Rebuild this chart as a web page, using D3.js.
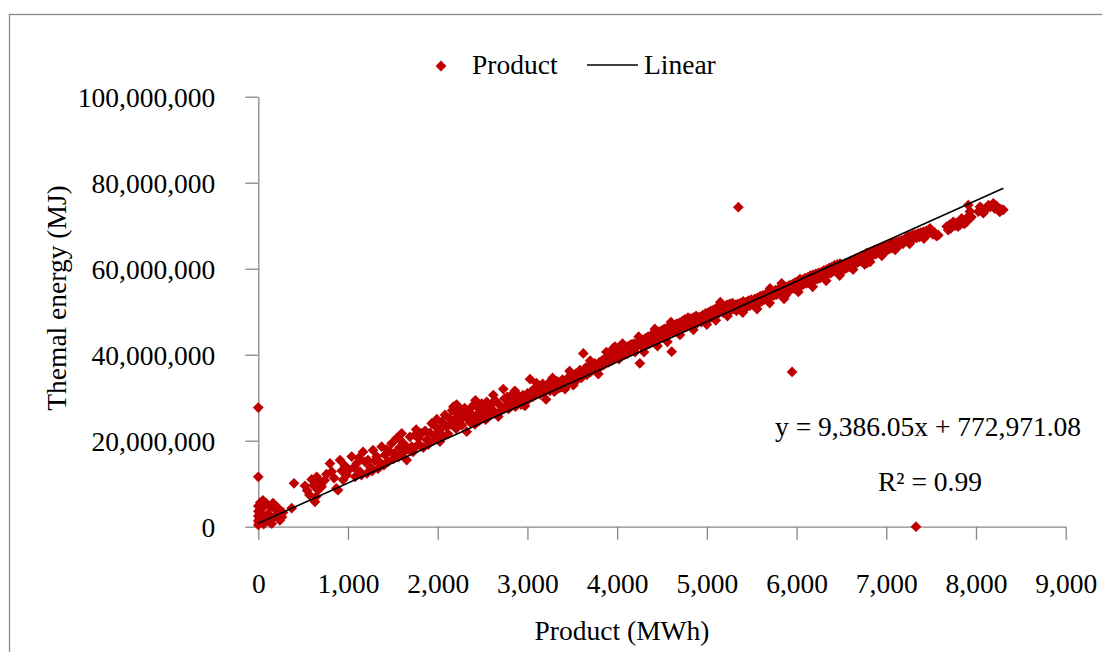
<!DOCTYPE html>
<html>
<head>
<meta charset="utf-8">
<script src="https://cdn.jsdelivr.net/npm/d3@7"></script>
<style>
  body { margin: 0; background: #fff; }
  svg { display: block; }
  text { font-family: "Liberation Serif", "Times New Roman", serif; fill: #000; }
</style>
</head>
<body>
<svg id="chart" width="1102" height="652"></svg>
<script>
// Axis ticks
const xTicks = [0, 1000, 2000, 3000, 4000, 5000, 6000, 7000, 8000, 9000];
const yTicks = [0, 20e6, 40e6, 60e6, 80e6, 100e6];

// Linear fit reported on the chart
const trendSlope = 9386.05;
const trendIntercept = 772971.08;
const rSquared = 0.99;

// Observations: [product in MWh, thermal energy in millions of MJ]
const observations = [
  [0,0.4],[0,1.4],[0,2.5],[0,3.6],[0,4.8],[0,11.6],[0,27.7],[8,0.9],[15,2.0],[22,5.6],[30,3.1],[40,4.2],
  [52,6.1],[60,0.6],[75,1.7],[90,5.4],[100,2.2],[110,3.0],[125,1.1],[140,4.6],[150,0.7],[164,5.5],[180,2.4],
  [200,3.8],[220,4.35],[240,1.5],[264,2.25],[275,3.3],
  [372,4.3],[398,10.1],
  [521,9.5],[545,8.4],[570,7.4],[595,11.0],[615,9.6],[632,5.8],[645,7.0],[651,11.6],[666,8.5],[690,10.5],[706,9.3],
  [740,10.8],[760,12.2],[799,14.7],[818,12.8],[845,11.3],[870,8.9],[888,8.5],[911,15.5],[930,13.0],[945,10.9],
  [965,14.2],[985,12.0],
  [1010,13.2],[1041,16.3],[1065,13.8],[1080,11.6],[1097,14.7],[1120,16.0],[1134,12.8],[1150,12.0],[1167,17.4],
  [1190,15.1],[1210,12.4],[1223,15.5],[1250,13.8],[1270,13.0],[1279,17.8],[1300,15.3],[1320,16.3],[1335,13.5],
  [1355,15.0],[1375,18.6],[1400,14.3],[1412,16.7],[1430,18.0],[1446,15.1],[1465,17.5],[1487,19.4],[1505,15.8],
  [1520,17.1],[1543,20.6],[1562,16.2],[1575,18.4],[1580,20.2],[1598,21.7],[1615,17.2],[1635,19.0],[1654,15.5],
  [1675,17.9],[1691,20.9],[1710,18.6],[1725,17.4],[1747,21.3],[1760,22.6],[1765,18.8],[1784,20.6],[1800,19.0],
  [1821,21.7],[1840,18.4],[1860,22.3],[1877,20.2],[1895,19.1],[1915,21.8],[1933,24.0],[1950,20.0],[1970,21.3],
  [1990,23.0],[1990,25.0],[2005,20.4],[2025,22.5],[2025,19.8],[2045,24.4],[2060,21.0],[2081,26.0],[2100,23.3],
  [2115,21.6],[2130,25.2],[2145,23.8],[2160,27.0],[2175,27.9],[2190,25.0],[2205,22.8],[2210,28.4],[2220,26.3],
  [2240,24.4],[2255,27.2],[2270,23.6],[2285,25.8],[2300,27.6],[2323,22.1],[2335,25.0],[2350,26.8],[2365,24.2],
  [2380,27.9],[2400,25.6],[2415,23.8],[2420,29.4],[2430,28.0],[2445,26.2],[2460,24.6],[2475,27.3],[2490,28.6],
  [2505,25.6],[2520,27.2],[2535,24.9],[2546,29.0],[2560,26.4],[2575,28.0],[2590,26.0],[2605,28.6],[2620,27.0],
  [2620,30.6],[2640,29.4],[2655,26.2],
  [2675,25.6],[2690,28.3],[2705,27.0],[2731,32.0],[2745,29.8],[2760,28.0],[2775,30.2],[2790,27.4],[2805,29.2],
  [2820,30.6],[2835,28.3],[2850,29.6],[2860,31.6],[2865,27.9],[2880,30.8],[2895,28.8],[2917,30.0],[2930,28.4],
  [2950,30.6],[2973,28.1],[2985,29.6],[3000,31.0],
  [3015,29.7],[3029,34.3],[3045,31.5],[3060,30.2],[3075,32.0],[3090,30.6],[3100,33.4],[3110,31.6],[3125,32.8],
  [3140,30.8],[3155,32.2],[3170,33.2],[3185,31.2],[3207,29.6],[3220,32.0],[3235,33.4],[3250,31.6],[3265,32.8],
  [3280,34.6],[3289,33.3],[3300,31.4],[3315,32.6],[3330,33.8],[3345,32.2],[3360,33.6],[3375,32.4],[3390,34.2],
  [3405,33.0],[3419,32.0],
  [3435,33.8],[3450,34.6],[3465,33.4],[3470,36.2],[3480,35.0],[3495,34.0],[3512,32.9],[3525,34.8],[3540,35.6],
  [3555,34.2],[3570,35.5],[3585,36.4],[3600,34.6],[3623,40.3],[3635,36.0],[3650,37.0],[3661,35.3],[3675,36.4],
  [3690,37.4],[3700,38.6],[3705,36.0],[3720,37.8],[3735,36.6],[3750,38.0],[3765,36.8],[3790,35.5],[3800,38.2],
  [3815,37.2],[3830,38.6],[3845,37.6],[3860,39.0],[3875,38.0],[3880,40.6],[3890,39.6],[3905,38.2],[3920,40.0],
  [3940,38.6],[3957,41.5],[3976,41.9],[3990,39.4],[4005,40.4],[4020,39.0],[4035,41.0],[4050,39.6],[4060,42.6],
  [4065,41.4],[4080,40.0],[4095,41.6],[4110,40.2],[4125,42.0],[4140,40.8],[4155,42.4],[4170,41.0],[4185,42.6],
  [4200,40.6],[4218,41.9],[4235,43.0],[4240,44.2],[4253,38.0],
  [4270,42.0],[4285,43.4],[4300,41.8],[4300,40.6],[4315,43.8],[4330,42.4],[4345,44.2],[4360,42.6],[4375,44.4],
  [4390,43.0],[4403,45.0],[4420,42.8],[4420,46.0],[4435,44.6],[4450,43.4],[4450,42.0],[4465,45.3],[4480,43.8],
  [4495,45.6],[4510,44.2],[4525,46.0],[4540,44.4],[4555,46.2],[4560,43.0],[4570,44.8],[4585,46.4],[4600,47.6],
  [4608,40.7],[4620,45.2],[4635,46.8],[4650,45.4],[4665,47.2],[4680,45.8],[4695,47.4],[4700,44.6],[4710,46.2],
  [4725,47.8],[4740,46.4],[4755,48.2],[4775,46.6],[4790,48.6],
  [4805,47.0],[4820,48.4],[4835,46.8],[4850,48.6],[4850,45.8],[4865,47.2],[4880,49.0],[4895,47.4],[4910,48.6],
  [4924,48.8],[4940,47.6],[4955,49.2],[4970,48.0],[4985,49.6],[5000,48.2],[5000,47.0],[5015,49.8],[5030,48.4],
  [5045,50.2],[5060,48.8],[5075,50.4],[5090,49.2],[5100,48.0],[5105,50.8],[5120,49.4],[5135,51.0],[5150,52.2],
  [5165,51.6],[5180,49.8],[5195,51.2],[5210,50.0],[5225,51.6],[5230,49.0],[5240,50.2],[5255,51.8],[5270,50.4],
  [5285,52.0],[5300,50.6],[5315,51.6],[5330,50.2],
  [5351,74.3],
  [5345,51.8],[5360,50.6],[5375,52.0],[5390,51.0],[5400,49.8],[5405,52.4],[5420,50.8],[5435,52.2],[5450,51.2],
  [5465,52.6],[5480,51.4],[5495,52.8],[5518,51.6],[5535,53.0],[5550,51.8],[5560,50.6],[5565,53.2],[5580,52.0],
  [5595,53.6],[5610,52.4],[5625,53.8],[5640,52.8],[5655,54.0],[5670,53.0],[5685,54.4],[5700,52.0],[5704,55.4],
  [5720,53.6],[5735,54.8],[5750,53.8],[5765,55.0],[5780,54.0],[5795,55.2],[5810,54.4],[5834,56.6],[5850,54.8],
  [5860,53.0],[5865,55.6],[5880,53.8],[5895,55.8],
  [5950,36.0],
  [5910,55.0],[5925,56.2],[5940,55.2],[5955,56.4],[5970,55.4],[5985,56.8],[6000,55.6],[6015,57.0],[6020,54.6],
  [6038,57.6],[6050,56.0],[6065,57.4],[6080,56.4],[6095,57.8],[6110,56.6],[6125,58.0],[6140,57.0],[6155,58.4],
  [6170,57.2],[6180,55.8],[6185,58.6],[6200,57.4],[6215,58.8],[6230,57.6],[6245,59.0],[6261,57.8],[6275,59.2],
  [6290,58.2],[6305,59.6],[6320,58.4],[6330,57.2],[6335,59.8],[6350,58.8],[6365,60.2],[6380,59.0],[6395,60.4],
  [6409,59.4],[6425,60.8],[6440,59.6],[6455,61.0],[6470,60.0],[6480,58.4],[6485,61.2],[6500,60.2],
  [6515,60.8],[6530,59.8],[6545,61.2],[6560,60.2],[6575,61.4],[6590,60.4],[6605,61.8],[6620,60.8],[6630,59.8],
  [6635,62.0],[6650,61.2],[6665,62.4],[6680,61.4],[6695,62.6],[6710,61.8],[6725,63.0],[6740,62.0],[6755,63.2],
  [6760,61.0],[6770,62.4],[6781,63.6],[6790,61.4],[6795,62.6],[6810,63.8],[6820,61.6],[6825,62.8],[6840,64.0],
  [6855,63.2],[6870,64.4],[6885,63.4],[6900,64.6],[6915,63.8],[6930,64.8],[6945,63.8],[6950,63.0],[6960,65.0],
  [6975,64.2],[6990,65.2],[7005,64.2],[7020,65.4],[7035,64.6],[7050,65.8],[7065,64.8],[7080,66.0],[7095,65.2],
  [7100,64.4],[7110,66.2],[7125,65.4],[7140,66.4],[7153,65.6],[7170,66.6],[7185,65.8],[7200,66.8],
  [7215,66.4],[7230,67.4],[7245,66.6],[7260,67.6],[7260,65.8],[7275,66.8],[7290,67.8],[7305,67.0],[7320,68.0],
  [7339,67.2],[7355,68.2],[7370,67.4],[7385,68.4],[7400,67.6],[7415,68.6],[7420,67.0],[7430,67.8],[7445,68.8],
  [7460,68.0],[7487,69.4],[7500,68.4],[7520,68.0],[7540,68.4],[7560,67.6],[7580,67.8],
  [7331,0.0],
  [7673,69.8],[7690,69.0],[7705,70.2],[7720,69.4],[7747,70.9],[7765,70.0],[7780,70.6],[7800,69.8],[7822,70.2],
  [7840,71.7],[7855,70.8],[7870,70.4],[7896,70.9],[7914,74.8],[7925,72.4],[7933,73.3],[7950,72.0],[8026,73.3],
  [8045,74.4],[8064,74.0],[8082,72.9],[8100,73.6],[8120,74.0],[8140,74.8],[8160,74.4],[8193,75.2],[8210,74.0],
  [8230,74.6],[8249,74.0],[8265,73.2],[8280,73.8],[8305,73.7]
];

const seriesName = "Product";
const trendName = "Linear";
const xTitle = "Product (MWh)";
const yTitle = "Themal energy (MJ)";

const points = observations.map(([mwh, mj]) => ({ x: mwh, y: mj * 1e6 }));

const svg = d3.select("#chart");
const axisColor = "#878787";
const markColor = "#C00000";
const fontSize = 27.5;

// Outer chart frame
svg.append("rect")
  .attr("x", 9.5).attr("y", 14.5)
  .attr("width", 1110).attr("height", 660)
  .attr("fill", "none").attr("stroke", "#8c8c8c").attr("stroke-width", 1.3);

const x = d3.scaleLinear().domain([0, 9000]).range([258.3, 1065.7]);
const y = d3.scaleLinear().domain([0, 100e6]).range([526.7, 96.7]);
const fmt = d3.format(",");

// Y axis
const yAxis = svg.append("g")
  .attr("transform", `translate(${x(0)},0)`)
  .call(d3.axisLeft(y).tickValues(yTicks).tickFormat(fmt).tickSize(13).tickSizeOuter(0).tickPadding(30));
// X axis
const xAxis = svg.append("g")
  .attr("transform", `translate(0,${y(0)})`)
  .call(d3.axisBottom(x).tickValues(xTicks).tickFormat(fmt).tickSize(13).tickSizeOuter(0));

[yAxis, xAxis].forEach(g => {
  g.select(".domain").attr("stroke", axisColor).attr("stroke-width", 1.3);
  g.selectAll(".tick line").attr("stroke", axisColor).attr("stroke-width", 1.3);
  g.selectAll(".tick text")
    .style("font-family", '"Liberation Serif", "Times New Roman", serif')
    .style("font-size", fontSize + "px")
    .attr("fill", "#000");
});
yAxis.selectAll(".tick text").attr("dy", "0.34em");
xAxis.selectAll(".tick text").attr("y", 66.5).attr("dy", 0);

// Scatter markers (diamonds)
const diamond = d3.symbol().type(d3.symbolSquare).size(58);
svg.append("g")
  .selectAll("path")
  .data(points)
  .join("path")
  .attr("d", diamond)
  .attr("transform", d => `translate(${x(d.x)},${y(d.y)}) rotate(45)`)
  .attr("fill", markColor);

// Linear trendline over the data range
const xMin = d3.min(points, d => d.x);
const xMax = d3.max(points, d => d.x);
const trend = [xMin, xMax].map(v => ({ x: v, y: trendSlope * v + trendIntercept }));
svg.append("path")
  .datum(trend)
  .attr("d", d3.line().x(d => x(d.x)).y(d => y(d.y)))
  .attr("fill", "none")
  .attr("stroke", "#000")
  .attr("stroke-width", 1.6);

// Equation and R² labels
const eqText = `y = ${d3.format(",.2f")(trendSlope)}x + ${d3.format(",.2f")(trendIntercept)}`;
svg.append("text").attr("x", 775).attr("y", 436)
  .style("font-size", fontSize + "px").text(eqText);
svg.append("text").attr("x", 878).attr("y", 491)
  .style("font-size", fontSize + "px").text(`R² = ${rSquared.toFixed(2)}`);

// Axis titles
svg.append("text")
  .attr("x", 622).attr("y", 640)
  .attr("text-anchor", "middle")
  .style("font-size", fontSize + "px")
  .text(xTitle);
svg.append("text")
  .attr("transform", "translate(66,298) rotate(-90)")
  .attr("text-anchor", "middle")
  .style("font-size", fontSize + "px")
  .text(yTitle);

// Legend
const legend = svg.append("g");
legend.append("path")
  .attr("d", diamond)
  .attr("transform", "translate(441,66) rotate(45)")
  .attr("fill", markColor);
legend.append("text").attr("x", 472).attr("y", 74)
  .style("font-size", fontSize + "px").text(seriesName);
legend.append("line")
  .attr("x1", 587).attr("x2", 638).attr("y1", 65).attr("y2", 65)
  .attr("stroke", "#000").attr("stroke-width", 1.6);
legend.append("text").attr("x", 644).attr("y", 74)
  .style("font-size", fontSize + "px").text(trendName);
</script>
</body>
</html>
